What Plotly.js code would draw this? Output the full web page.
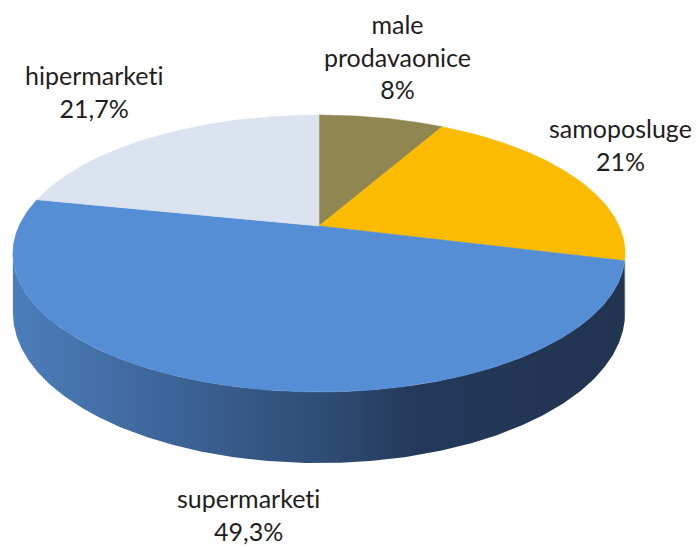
<!DOCTYPE html>
<html>
<head>
<meta charset="utf-8">
<script src="https://cdn.plot.ly/plotly-3.0.1.min.js"></script>
<style>html,body{margin:0;padding:0;background:#fff;}#chart{width:699px;height:547px;}</style>
</head>
<body>
<div id="chart"></div>
<script>
// ---- data ----
const categories = ['male prodavaonice', 'samoposluge', 'supermarketi', 'hipermarketi'];
const shares = [8, 21, 49.3, 21.7];
const pctLabels = ['8%', '21%', '49,3%', '21,7%'];
const labelLines = ['male<br>prodavaonice', 'samoposluge', 'supermarketi', 'hipermarketi'];

// ---- styles ----
const topColors = ['#8F8651', '#FABB00', '#558ED5', '#DAE3EF'];
const sideScales = [
  [[0, '#5f5930'], [1, '#3f3b20']],
  [[0, '#7a5c00'], [1, '#5a4400']],
  [[0, '#4B7EBB'], [0.31, '#3A5F90'], [0.52, '#2E4B73'], [0.66, '#24395A'], [1, '#213450']],
  [[0, '#9aa6b8'], [1, '#6f7a8a']]
];
// label anchor positions (pixel space of the plot)
const labelPos = [[397, 56], [620, 144], [248, 514], [94, 91]];

// ---- pie geometry (perspective disc) ----
const CX = 319, CY = 226, A = 300, B = 133, C = 0.1986, H = 57;
function proj(t, depth) {
  const X = Math.sin(t), Y = Math.cos(t);
  const w = 1 + C * Y;
  return [CX + A * X / w, CY - B * Y / w + depth / w];
}
function arc(t0, t1, depth) {
  const pts = [];
  const n = Math.max(2, Math.ceil(Math.abs(t1 - t0) / (Math.PI / 360)));
  for (let i = 0; i <= n; i++) pts.push(proj(t0 + (t1 - t0) * i / n, depth));
  return pts;
}
// break the "ti" ligature of the font so the text looks like the reference
function noLig(s) { return s.replace(/ti/g, 't\u200Ci'); }

const total = shares.reduce((a, b) => a + b, 0);
const sideTraces = [], topTraces = [];
const visA = Math.acos(-C), visB = 2 * Math.PI - visA;
let acc = 0;
shares.forEach((v, i) => {
  const t0 = acc / total * 2 * Math.PI;
  acc += v;
  const t1 = acc / total * 2 * Math.PI;
  // side wall
  const a = Math.max(t0, visA), b = Math.min(t1, visB);
  if (b > a) {
    const topArc = arc(a, b, 0), botArc = arc(b, a, H);
    const pts = topArc.concat(botArc);
    pts.push(pts[0]);
    sideTraces.push({
      type: 'scatter', mode: 'lines', x: pts.map(p => p[0]), y: pts.map(p => p[1]),
      fill: 'toself', line: {width: 0, color: 'rgba(0,0,0,0)'},
      fillcolor: sideScales[i][0][1],
      fillgradient: {type: 'horizontal', colorscale: sideScales[i], start: CX - A * 1.02, stop: CX + A * 1.02},
      hoverinfo: 'skip', showlegend: false
    });
  }
  // top face
  const pts = [[CX, CY]].concat(arc(t0, t1, 0));
  pts.push([CX, CY]);
  topTraces.push({
    type: 'scatter', mode: 'lines', x: pts.map(p => p[0]), y: pts.map(p => p[1]),
    fill: 'toself', fillcolor: topColors[i], line: {width: 0.6, color: topColors[i]},
    hoverinfo: 'skip', showlegend: false, name: categories[i]
  });
});

const annotations = categories.map((c, i) => ({
  x: labelPos[i][0], y: labelPos[i][1], xref: 'x', yref: 'y',
  text: noLig(labelLines[i]) + '<br>' + pctLabels[i], showarrow: false,
  xanchor: 'center', yanchor: 'middle', align: 'center',
  font: {family: 'Lato, "Open Sans", sans-serif', size: 25, color: '#1e1e1e'}
}));

Plotly.newPlot('chart', sideTraces.concat(topTraces), {
  width: 699, height: 547,
  margin: {l: 0, r: 0, t: 0, b: 0, pad: 0},
  paper_bgcolor: '#ffffff', plot_bgcolor: '#ffffff',
  xaxis: {range: [0, 699], autorange: false, visible: false, fixedrange: true},
  yaxis: {range: [547, 0], autorange: false, visible: false, fixedrange: true},
  annotations: annotations,
  showlegend: false
}, {staticPlot: true, displayModeBar: false});
</script>
</body>
</html>
